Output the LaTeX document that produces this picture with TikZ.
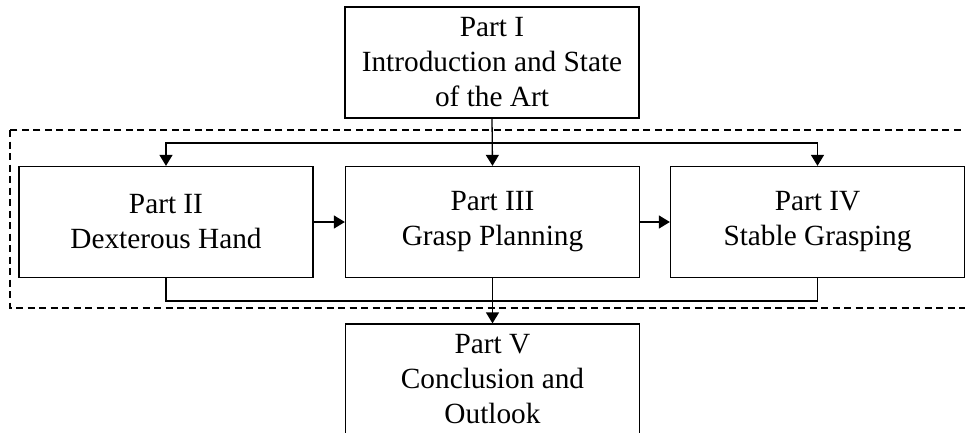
\documentclass[tikz,border=0pt]{standalone}
\usepackage{fontspec}
\setmainfont{Liberation Serif}
\usetikzlibrary{arrows.meta}

\begin{document}
\begin{tikzpicture}[x=1pt, y=-1pt, line width=1.3pt,
	part/.style={draw, minimum width=294pt, minimum height=111pt, inner sep=0pt, align=center, font=\fontsize{29.3}{35}\selectfont},
	arr/.style={-{Triangle[width=13pt,length=11pt]}}]

	\useasboundingbox (0,0) rectangle (965,432);

	% dashed frame round the middle parts
	\draw[line width=1.2pt, dash pattern=on 7pt off 4.5pt] (10,130) rectangle (980,308);

	% parts
	\node[part] (p1) at (492,62.5) {Part I\\Introduction and State\\of the Art};
	\node[part] (p2) at (166,222) {Part II\\Dexterous Hand};
	\node[part] (p3) at (492.5,222) {Part III\\Grasp Planning};
	\node[part] (p4) at (817.5,222) {Part IV\\Stable Grasping};
	\node[part] (p5) at (492.5,379.5) {Part V\\Conclusion and\\Outlook};

	% split and join points
	\coordinate (split) at (492,143);
	\coordinate (join) at (492,301);

	% arrows
	\draw[arr] (p1.south) -- (p3.north);
	\draw[arr] (split) -| (p2.north);
	\draw[arr] (split) -| (p4.north);
	\draw[arr] (p2.east) -- (p3.west);
	\draw[arr] (p3.east) -- (p4.west);
	\draw (p2.south) |- (join) -| (p4.south);
	\draw[arr] (p3.south) -- (p5.north);

\end{tikzpicture}
\end{document}
